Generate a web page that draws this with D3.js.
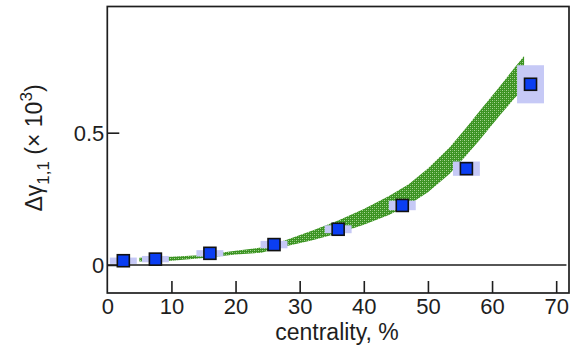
<!DOCTYPE html>
<html>
<head>
<meta charset="utf-8">
<script src="https://cdn.jsdelivr.net/npm/d3@7"></script>
<style>
  html, body { margin: 0; padding: 0; background: #fff; }
  svg { display: block; }
  text { font-family: "Liberation Sans", Arial, Helvetica, sans-serif; fill: #1e1e1e; }
</style>
</head>
<body>
<svg id="chart" width="573" height="349"></svg>
<script>
// Measured charge-dependent correlator vs. centrality
const centrality = [2.5, 7.5, 16, 26, 36, 46, 56, 66];
const deltaGamma = [0.016, 0.022, 0.044, 0.077, 0.135, 0.225, 0.364, 0.683];
const sysErr     = [0.012, 0.012, 0.012, 0.014, 0.015, 0.018, 0.027, 0.072];
const binHalfWidth = 2.1; // centrality half-width of the systematic boxes

// Model band (lower / upper edge)
const bandCentrality = [5, 10, 15, 20, 24, 28, 32, 36, 40, 44, 47, 50, 53.4, 56, 58, 61.2, 63.5, 65, 65];
const bandLow  = [0.013, 0.016, 0.026, 0.040, 0.046, 0.072, 0.093, 0.120, 0.152, 0.190, 0.228, 0.275, 0.345, 0.415, 0.470, 0.565, 0.630, 0.665, 0.665];
const bandHigh = [0.027, 0.031, 0.038, 0.054, 0.066, 0.095, 0.130, 0.168, 0.212, 0.262, 0.305, 0.365, 0.445, 0.520, 0.580, 0.675, 0.745, 0.790, 0.790];

// Axis ticks
const xTicks = [0, 10, 20, 30, 40, 50, 60, 70];
const yTicks = [0, 0.5];
const yTickLabels = ["0", "0.5"];

const svg = d3.select("#chart");
const frame = { left: 107.3, right: 569, top: 6.5, bottom: 293 };

const x = d3.scaleLinear().domain([0, 72]).range([frame.left, frame.right]);
const y = d3.scaleLinear().domain([-0.106, 0.977]).range([frame.bottom, frame.top]);

// cross-hatched green fill for the model band
const defs = svg.append("defs");
const pat = defs.append("pattern")
  .attr("id", "hatch").attr("patternUnits", "userSpaceOnUse")
  .attr("width", 4).attr("height", 4);
pat.append("rect").attr("width", 4).attr("height", 4).attr("fill", "#3a9320");
pat.append("rect").attr("x", 0).attr("y", 0).attr("width", 1).attr("height", 1).attr("fill", "#a9d596");
pat.append("rect").attr("x", 2).attr("y", 2).attr("width", 1).attr("height", 1).attr("fill", "#a9d596");
pat.append("rect").attr("x", 2).attr("y", 0).attr("width", 1).attr("height", 1).attr("fill", "#6fb55a");
pat.append("rect").attr("x", 0).attr("y", 2).attr("width", 1).attr("height", 1).attr("fill", "#6fb55a");
defs.append("filter").attr("id", "soft")
  .append("feGaussianBlur").attr("stdDeviation", 0.35);

const band = bandCentrality.map((c, i) => ({ c, lo: bandLow[i], hi: bandHigh[i] }));
svg.append("path")
  .datum(band)
  .attr("d", d3.area().x(d => x(d.c)).y0(d => y(d.lo)).y1(d => y(d.hi)).curve(d3.curveLinear))
  .attr("fill", "url(#hatch)")
  .attr("filter", "url(#soft)");

const pts = centrality.map((c, i) => ({ c, v: deltaGamma[i], s: sysErr[i] }));

// systematic uncertainty boxes
svg.append("g").selectAll("rect").data(pts).join("rect")
  .attr("x", d => x(d.c - binHalfWidth))
  .attr("width", d => x(d.c + binHalfWidth) - x(d.c - binHalfWidth))
  .attr("y", d => y(d.v + d.s))
  .attr("height", d => y(d.v - d.s) - y(d.v + d.s))
  .attr("fill", "#c6c9f6");

// zero line
svg.append("line")
  .attr("x1", frame.left).attr("x2", x(71.6))
  .attr("y1", y(0)).attr("y2", y(0))
  .attr("stroke", "#1e1e1e").attr("stroke-width", 1.6);

// frame
svg.append("rect")
  .attr("x", frame.left).attr("y", frame.top)
  .attr("width", frame.right - frame.left).attr("height", frame.bottom - frame.top)
  .attr("fill", "none").attr("stroke", "#1e1e1e").attr("stroke-width", 1.7);

// x axis: inward ticks along the bottom edge
const xAxis = svg.append("g").attr("transform", `translate(0,${frame.bottom})`)
  .call(d3.axisBottom(x).tickValues(xTicks).tickSizeInner(-12).tickSizeOuter(0).tickPadding(20)
    .tickFormat(d3.format("d")));
xAxis.select(".domain").remove();
xAxis.selectAll("line").attr("stroke", "#1e1e1e").attr("stroke-width", 1.6)
  .filter(d => d === 0).remove();
xAxis.selectAll("text").attr("font-size", 22).attr("fill", "#1e1e1e")
  .attr("y", 21).attr("dy", 0);

// y axis: inward ticks along the left edge
const yAxis = svg.append("g").attr("transform", `translate(${frame.left},0)`)
  .call(d3.axisLeft(y).tickValues(yTicks).tickSizeInner(-12).tickSizeOuter(0).tickPadding(0)
    .tickFormat((d, i) => yTickLabels[i]));
yAxis.select(".domain").remove();
yAxis.selectAll("line").attr("stroke", "#1e1e1e").attr("stroke-width", 1.6);
yAxis.selectAll("text").attr("font-size", 22).attr("fill", "#1e1e1e")
  .attr("x", -3).attr("dy", "0.36em");

// data markers
svg.append("g").selectAll("rect").data(pts).join("rect")
  .attr("x", d => x(d.c) - 6).attr("y", d => y(d.v) - 6)
  .attr("width", 12).attr("height", 12)
  .attr("fill", "#0b3ef2").attr("stroke", "#111").attr("stroke-width", 1.6);

// axis titles
svg.append("text")
  .attr("x", 337).attr("y", 340).attr("text-anchor", "middle")
  .attr("font-size", 23).text("centrality, %");

const yt = svg.append("text")
  .attr("transform", "translate(42,148) rotate(-90)")
  .attr("text-anchor", "middle").attr("font-size", 23);
yt.append("tspan").text("\u0394\u03b3");
yt.append("tspan").attr("font-size", 17).attr("dy", 7).text("1,1");
yt.append("tspan").attr("dy", -7).text(" (\u00d7 10");
yt.append("tspan").attr("font-size", 17).attr("dy", -10).text("3");
yt.append("tspan").attr("dy", 10).text(")");
</script>
</body>
</html>
